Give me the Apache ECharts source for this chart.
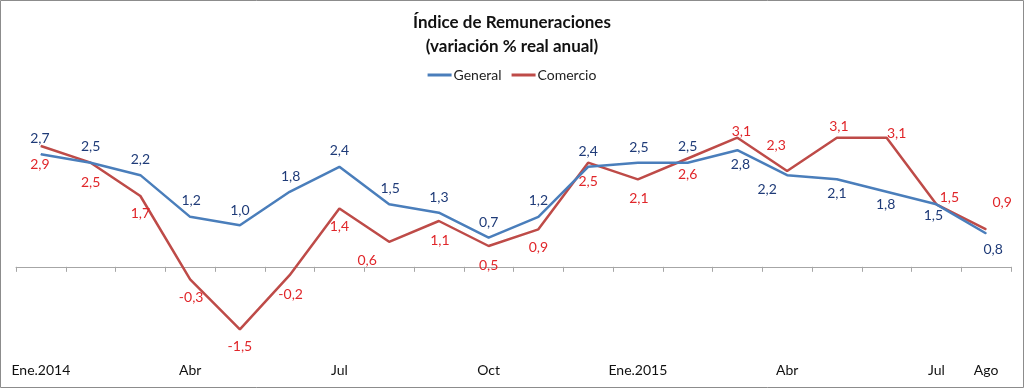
<!DOCTYPE html>
<html>
<head>
<meta charset="utf-8">
<script src="https://cdn.jsdelivr.net/npm/echarts@6/dist/echarts.min.js"></script>
<style>
html,body{margin:0;padding:0;background:#fff;}
#c{width:1024px;height:388px;}
</style>
</head>
<body>
<div id="c"></div>
<script>
// ---- data ----
const categories = ['Ene.2014','Feb','Mar','Abr','May','Jun','Jul','Ago','Sep','Oct','Nov','Dic',
                    'Ene.2015','Feb','Mar','Abr','May','Jun','Jul','Ago'];
const shownTickIdx = [0,3,6,9,12,15,18,19];
const general  = [2.7,2.5,2.2,1.2,1.0,1.8,2.4,1.5,1.3,0.7,1.2,2.4,2.5,2.5,2.8,2.2,2.1,1.8,1.5,0.8];
const comercio = [2.9,2.5,1.7,-0.3,-1.5,-0.2,1.4,0.6,1.1,0.5,0.9,2.5,2.1,2.6,3.1,2.3,3.1,3.1,1.5,0.9];
// label shifts (pixels from point)
const generalLabelShift = [[-1,-16],[0,-16],[0,-16],[1,-16],[0,-15],[1,-15],[0,-16],[1,-16],[0,-15],[0,-15],
                           [0,-16],[0,-15],[1,-15],[0,-16],[3,14],[-20,14],[0,14],[-1,13],[-3,11],[7,16]];
const comercioLabelShift = [[-1,18],[0,20],[0,17],[1,18],[0,17],[1,19],[0,18],[-22,19],[1,19],[0,19],
                            [0,18],[0,19],[1,19],[0,16],[4,-6],[-11,-26],[2,-11],[10,-4],[13,-7],[16,-27]];

const fmt = v => v.toFixed(1).replace('.', ',');
function build(values, shifts) {
  return values.map((v, i) => ({
    value: v,
    label: { offset: shifts[i] }
  }));
}

const chart = echarts.init(document.getElementById('c'), null, {renderer: 'canvas'});
const font = 'Lato, "Open Sans", sans-serif';
chart.setOption({
  animation: false,
  backgroundColor: '#fff',
  title: {
    text: 'Índice de Remuneraciones\n(variación % real anual)',
    left: 'center',
    top: 6,
    textStyle: { fontFamily: font, fontSize: 17, fontWeight: 'bold', color: '#111', lineHeight: 24 }
  },
  legend: {
    top: 63,
    left: 'center',
    itemWidth: 24,
    itemHeight: 3,
    itemGap: 10,
    icon: 'rect',
    textStyle: { fontFamily: font, fontSize: 14, color: '#222', padding: [0,0,0,-3] },
    data: ['General', 'Comercio']
  },
  grid: { left: 16, right: 13, top: 108.5, bottom: 29.5 },
  xAxis: [
    {
      type: 'category',
      data: categories,
      boundaryGap: true,
      axisLine: { onZero: true, lineStyle: { color: '#a6a6a6', width: 1 } },
      axisTick: { show: true, length: 5, interval: 0, lineStyle: { color: '#a6a6a6' } },
      axisLabel: { show: false },
      splitLine: { show: false }
    },
    {
      type: 'category',
      data: categories,
      position: 'bottom',
      boundaryGap: true,
      axisLine: { show: false, onZero: false },
      axisTick: { show: false },
      axisLabel: {
        show: true,
        margin: 5,
        interval: (i) => shownTickIdx.indexOf(i) >= 0,
        fontFamily: font, fontSize: 14, color: '#111'
      },
      splitLine: { show: false }
    }
  ],
  yAxis: {
    type: 'value',
    min: -2.2, max: 3.8,
    show: false,
    splitLine: { show: false }
  },
  series: [
    {
      name: 'General',
      type: 'line',
      xAxisIndex: 0,
      data: build(general, generalLabelShift),
      symbol: 'circle', symbolSize: 1, showSymbol: true,
      lineStyle: { color: '#4a7ebb', width: 2.5 },
      itemStyle: { color: '#4a7ebb' },
      label: {
        show: true, position: 'inside',
        formatter: p => fmt(p.value),
        fontFamily: font, fontSize: 14, color: '#1f3b78'
      },
      z: 3
    },
    {
      name: 'Comercio',
      type: 'line',
      xAxisIndex: 0,
      data: build(comercio, comercioLabelShift),
      symbol: 'circle', symbolSize: 1, showSymbol: true,
      lineStyle: { color: '#be4b48', width: 2.5 },
      itemStyle: { color: '#be4b48' },
      label: {
        show: true, position: 'inside',
        formatter: p => fmt(p.value),
        fontFamily: font, fontSize: 14, color: '#e0262a'
      },
      z: 2
    }
  ],
  graphic: [{
    type: 'rect',
    shape: { x: 0.5, y: 0.5, width: 1023, height: 387 },
    style: { fill: 'none', stroke: '#8c8c8c', lineWidth: 1 },
    silent: true
  }]
});
</script>
</body>
</html>
